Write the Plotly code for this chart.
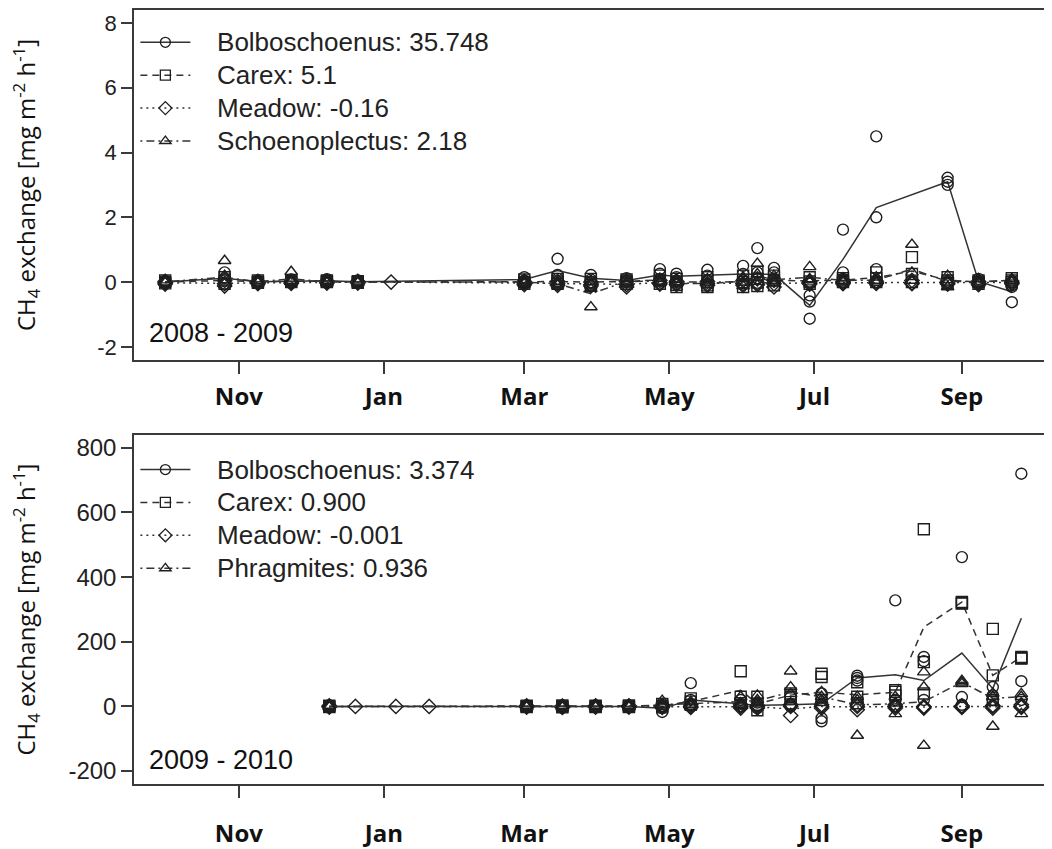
import plotly.graph_objects as go

# ---------------- data ----------------
month_ticks_top = ["2008-11-01", "2009-01-01", "2009-03-01", "2009-05-01", "2009-07-01", "2009-09-01"]
month_ticks_bot = ["2009-11-01", "2010-01-01", "2010-03-01", "2010-05-01", "2010-07-01", "2010-09-01"]
month_labels = ["Nov", "Jan", "Mar", "May", "Jul", "Sep"]

top_yticks = [-2, 0, 2, 4, 6, 8]
top_yticklabels = ["-2", "0", "2", "4", "6", "8"]
bot_yticks = [-200, 0, 200, 400, 600, 800]
bot_yticklabels = ["-200", "0", "200", "400", "600", "800"]

top_species = ["Bolboschoenus", "Carex", "Meadow", "Schoenoplectus"]
top_totals = ["35.748", "5.1", "-0.16", "2.18"]
bot_species = ["Bolboschoenus", "Carex", "Meadow", "Phragmites"]
bot_totals = ["3.374", "0.900", "-0.001", "0.936"]

top_dates = ["2008-10-01", "2008-10-26", "2008-11-09", "2008-11-23", "2008-12-08", "2008-12-21",
             "2009-01-04", "2009-03-01", "2009-03-15", "2009-03-29", "2009-04-13", "2009-04-27",
             "2009-05-04", "2009-05-17", "2009-06-01", "2009-06-07", "2009-06-14", "2009-06-29",
             "2009-07-13", "2009-07-27", "2009-08-11", "2009-08-26", "2009-09-08", "2009-09-22"]

top_bolbo = [[0.04, 0.0, -0.03], [0.3, 0.12, -0.05], [0.05, 0.0, -0.03], [0.08, 0.02, -0.02],
             [0.09, 0.03, 0.0], [0.05, 0.0, -0.02], [], [0.15, 0.05, -0.02],
             [0.72, 0.22, 0.1], [0.22, 0.08, 0.0], [0.12, 0.05, 0.0], [0.4, 0.26, 0.1],
             [0.26, 0.15, 0.05], [0.38, 0.2, 0.05], [0.5, 0.25, 0.05], [1.05, 0.3, 0.12],
             [0.44, 0.3, 0.1], [-0.41, -1.13, -0.6], [1.62, 0.3, 0.1], [4.5, 2.0, 0.4],
             [], [3.22, 3.0, 3.1], [0.1, 0.0, -0.05], [-0.62, -0.15, -0.1]]
top_bolbo_mean = [0.0, 0.12, 0.01, 0.03, 0.04, 0.01, None, 0.08, 0.36, 0.12, 0.05, 0.22,
                  0.18, 0.22, 0.25, 0.24, 0.24, -0.72, 0.7, 2.3, None, 3.1, 0.02, -0.3]

top_carex = [[0.05, 0.0, -0.04], [0.15, 0.05, -0.05], [0.05, 0.0, -0.02], [0.06, 0.02, 0.0],
             [0.05, 0.02, 0.0], [0.03, 0.0, -0.02], [], [0.08, 0.0, -0.05],
             [0.1, 0.02, -0.05], [0.1, 0.0, -0.08], [0.08, 0.02, -0.05], [0.2, 0.05, -0.05],
             [0.1, -0.08, -0.15], [0.15, -0.1, -0.15], [0.2, 0.0, -0.15], [0.32, 0.1, -0.12],
             [0.2, 0.05, -0.1], [0.15, 0.02, -0.05], [0.12, 0.05, 0.0], [0.3, 0.12, 0.0],
             [0.77, 0.25, 0.0], [0.15, 0.05, -0.02], [0.05, 0.0, -0.05], [0.12, 0.05, 0.0]]
top_carex_mean = [0.0, 0.05, 0.01, 0.03, 0.02, 0.0, None, 0.01, 0.02, 0.0, 0.02, 0.07,
                  -0.05, -0.04, 0.02, 0.1, 0.05, 0.04, 0.06, 0.14, 0.34, 0.06, 0.0, 0.06]

top_meadow = [[0.02, -0.02, -0.06], [0.05, -0.05, -0.12], [0.02, -0.02, -0.05], [0.02, 0.0, -0.04],
              [0.03, 0.0, -0.03], [0.02, 0.0, -0.03], [0.0], [0.02, -0.03, -0.08],
              [0.02, -0.05, -0.1], [0.0, -0.08, -0.12], [0.02, -0.08, -0.15], [0.05, -0.02, -0.06],
              [0.03, -0.03, -0.08], [0.02, -0.05, -0.1], [0.05, -0.05, -0.1], [0.1, -0.02, -0.08],
              [0.05, -0.05, -0.15], [0.02, -0.03, -0.06], [0.02, -0.02, -0.05], [0.03, -0.02, -0.04],
              [0.05, -0.02, -0.05], [0.03, -0.03, -0.06], [0.02, -0.03, -0.08], [0.03, -0.02, -0.05]]
top_meadow_mean = [-0.02, -0.04, -0.02, -0.01, 0.0, -0.01, 0.0, -0.03, -0.04, -0.07, -0.07, -0.01,
                   -0.03, -0.04, -0.03, 0.0, -0.05, -0.02, -0.02, -0.01, -0.01, -0.02, -0.03, -0.01]

top_schoeno = [[0.06, 0.0, -0.02], [0.66, 0.2, 0.0], [0.05, 0.0, -0.02], [0.32, 0.05, 0.0],
               [0.05, 0.0, -0.02], [0.03, 0.0, -0.02], [], [0.05, 0.0, -0.05],
               [0.0, -0.05, -0.1], [-0.77, -0.2, -0.1], [0.1, 0.0, -0.03], [0.1, 0.02, -0.02],
               [0.08, 0.0, -0.05], [0.1, 0.0, -0.08], [0.15, 0.0, -0.12], [0.57, 0.25, -0.1],
               [0.2, 0.05, -0.02], [0.47, 0.1, 0.0], [0.12, 0.05, 0.0], [0.15, 0.05, -0.02],
               [1.16, 0.3, 0.05], [0.2, 0.0, -0.15], [0.1, 0.0, -0.05], [0.1, 0.05, 0.0]]
top_schoeno_mean = [0.01, 0.15, 0.01, 0.1, 0.01, 0.0, None, 0.0, -0.05, -0.36, 0.02, 0.03,
                    0.01, 0.0, 0.01, 0.2, 0.07, 0.15, 0.05, 0.06, 0.4, 0.02, 0.02, 0.05]

bot_dates = ["2009-12-09", "2009-12-20", "2010-01-06", "2010-01-20", "2010-03-02", "2010-03-17",
             "2010-03-31", "2010-04-14", "2010-04-28", "2010-05-10", "2010-05-31", "2010-06-07",
             "2010-06-21", "2010-07-04", "2010-07-19", "2010-08-04", "2010-08-16", "2010-09-01",
             "2010-09-14", "2010-09-26"]

bot_bolbo = [[3, 0, -3], [], [], [], [3, 0, -2], [2, -1, -4], [3, 0, -2], [2, 0, -2],
             [-17, -5, 0], [72, 20, 5], [20, 8, 0], [12, 2, -5], [8, 5, 0], [40, -36, -46],
             [95, 88, 80], [328, 20, 0], [153, 140, 20], [462, 29, 5], [60, 34, 20], [720, 78, 20]]
bot_bolbo_mean = [0, None, None, None, 0, -1, 0, 0, -6, 20, 8, 3, 5, 8, 88, 98, 80, 165, 55, 273]

bot_carex = [[2, 0, -2], [], [], [], [2, 0, -2], [3, 0, -3], [2, 0, -2], [3, 0, -2],
             [8, 2, -3], [25, 15, 5], [109, 30, 10], [30, 5, -12], [40, 30, 25], [101, 91, 20],
             [75, 30, 10], [50, 34, 45], [548, 137, 40], [323, 320, 318], [240, 96, 20], [153, 150, 148]]
bot_carex_mean = [0, None, None, None, 0, 0, 0, 0, 2, 15, 50, 8, 35, 44, 36, 44, 245, 323, 96, 153]

bot_meadow = [[2, 0, -2], [0], [0], [0], [2, 0, -2], [1, -1, -3], [2, 0, -2], [2, 0, -2],
              [3, 0, -3], [5, 0, -3], [5, 0, -5], [3, 0, -5], [5, 0, -28], [5, 0, -5],
              [5, 0, -10], [5, 0, -5], [0, -2, -5], [2, 0, -3], [3, 0, -5], [5, 0, -3]]
bot_meadow_mean = [0, 0, 0, 0, 0, -1, 0, 0, 0, 1, 0, -1, -8, 0, -2, 0, -2, 0, -1, 1]

bot_phrag = [[3, 0, -2], [], [], [], [3, 0, -2], [2, 0, -3], [3, 0, -2], [3, 0, -2],
             [18, 5, 0], [15, 5, 0], [30, 10, 5], [34, 20, 10], [109, 60, 39], [45, 30, 20],
             [-90, 30, 20], [-23, 10, 30], [106, 60, -121], [75, 80, 70], [-62, 40, 30], [39, 30, -23]]
bot_phrag_mean = [0, None, None, None, 0, 0, 0, 0, 5, 8, 15, 18, 44, 30, 5, 8, 15, 75, 25, 30]

# ---------------- styles ----------------
symbols = ["circle-open", "square-open", "diamond-open", "triangle-up-open"]
dashes = ["solid", "7px,5px", "2px,4px", "2px,4px,8px,4px"]
INK = "#1e1e1e"
LINE = "#333333"
FONT = "Liberation Sans"
PAD = "\u00a0\u00a0\u00a0"

fig = go.Figure()


def add_panel(dates, reps_list, means_list, species, totals, xaxis, yaxis, legend):
    for i in range(4):
        reps = reps_list[i]
        xs, ys = [], []
        for d, r in zip(dates, reps):
            for v in r:
                xs.append(d)
                ys.append(v)
        fig.add_trace(go.Scatter(x=dates, y=means_list[i], mode="lines", connectgaps=True,
                                 line=dict(color=LINE, width=1.5, dash=dashes[i]),
                                 xaxis=xaxis, yaxis=yaxis, showlegend=False, hoverinfo="skip"))
        fig.add_trace(go.Scatter(x=xs, y=ys, mode="markers",
                                 marker=dict(symbol=symbols[i], size=11, color=INK,
                                             line=dict(width=1.4, color=INK)),
                                 xaxis=xaxis, yaxis=yaxis, showlegend=False))
        # legend entry
        fig.add_trace(go.Scatter(x=[None], y=[None], mode="lines+markers",
                                 name=f"<span style='font-size:26px'>{PAD}{species[i]}: {totals[i]}</span>",
                                 line=dict(color=LINE, width=1.5, dash=dashes[i]),
                                 marker=dict(symbol=symbols[i], size=10, color=INK,
                                             line=dict(width=1.3, color=INK)),
                                 xaxis=xaxis, yaxis=yaxis, legend=legend, showlegend=True))


add_panel(top_dates, [top_bolbo, top_carex, top_meadow, top_schoeno],
          [top_bolbo_mean, top_carex_mean, top_meadow_mean, top_schoeno_mean],
          top_species, top_totals, "x", "y", "legend")
add_panel(bot_dates, [bot_bolbo, bot_carex, bot_meadow, bot_phrag],
          [bot_bolbo_mean, bot_carex_mean, bot_meadow_mean, bot_phrag_mean],
          bot_species, bot_totals, "x2", "y2", "legend2")

axis_common = dict(showline=True, linecolor="#3a3a3a", linewidth=1.5, mirror=True,
                   showgrid=False, zeroline=False, ticks="outside", tickcolor="#3a3a3a",
                   tickwidth=1.5, automargin=False)

xfont = dict(family="Open Sans", size=24, color="#111", weight="bold")

legend_common = dict(font=dict(family=FONT, size=23, color="#222"), bgcolor="rgba(0,0,0,0)",
                     borderwidth=0, itemwidth=50, tracegroupgap=0, xanchor="left", yanchor="top",
                     itemclick=False, itemdoubleclick=False)

top_dom = [0.548, 1.0]
bot_dom = [0.0, 0.451]

fig.update_layout(
    width=1052, height=849,
    margin=dict(l=126, r=12, t=2, b=73),
    paper_bgcolor="white", plot_bgcolor="white",
    xaxis=dict(axis_common, domain=[0, 1], anchor="y", type="date",
               range=["2008-09-17 21:30", "2009-10-07 05:00"],
               tickvals=month_ticks_top, ticktext=month_labels, ticklen=12,
               tickfont=xfont, ticklabelstandoff=3),
    yaxis=dict(axis_common, domain=top_dom, anchor="x", range=[-2.4, 8.4],
               tickvals=top_yticks, ticktext=top_yticklabels, ticklen=11,
               tickfont=dict(family=FONT, size=22, color="#222")),
    xaxis2=dict(axis_common, domain=[0, 1], anchor="y2", type="date",
                range=["2009-09-17 21:30", "2010-10-07 05:00"],
                tickvals=month_ticks_bot, ticktext=month_labels, ticklen=12,
                tickfont=xfont, ticklabelstandoff=15),
    yaxis2=dict(axis_common, domain=bot_dom, anchor="x2", range=[-240, 840],
                tickvals=bot_yticks, ticktext=bot_yticklabels, ticklen=11,
                tickfont=dict(family=FONT, size=24, color="#222")),
    legend=dict(legend_common, x=0.0015, y=0.986),
    legend2=dict(legend_common, x=0.0015, y=0.434),
    showlegend=True,
)

ytitle = "CH<sub>4</sub> exchange [mg m<sup>-2</sup> h<sup>-1</sup>]"
for yc in [(top_dom[0] + top_dom[1]) / 2, (bot_dom[0] + bot_dom[1]) / 2]:
    fig.add_annotation(text=ytitle, xref="paper", yref="paper", x=-0.118, y=yc,
                       xanchor="center", yanchor="middle", textangle=-90, showarrow=False,
                       font=dict(family="Open Sans", size=24, color="#111"))

fig.add_annotation(text="2008 - 2009", xref="paper", yref="paper", x=0.0146, y=0.583,
                   xanchor="left", yanchor="middle", showarrow=False,
                   font=dict(family=FONT, size=27, color="#111"))
fig.add_annotation(text="2009 - 2010", xref="paper", yref="paper", x=0.0146, y=0.031,
                   xanchor="left", yanchor="middle", showarrow=False,
                   font=dict(family=FONT, size=27, color="#111"))

fig.write_html("out.html")
